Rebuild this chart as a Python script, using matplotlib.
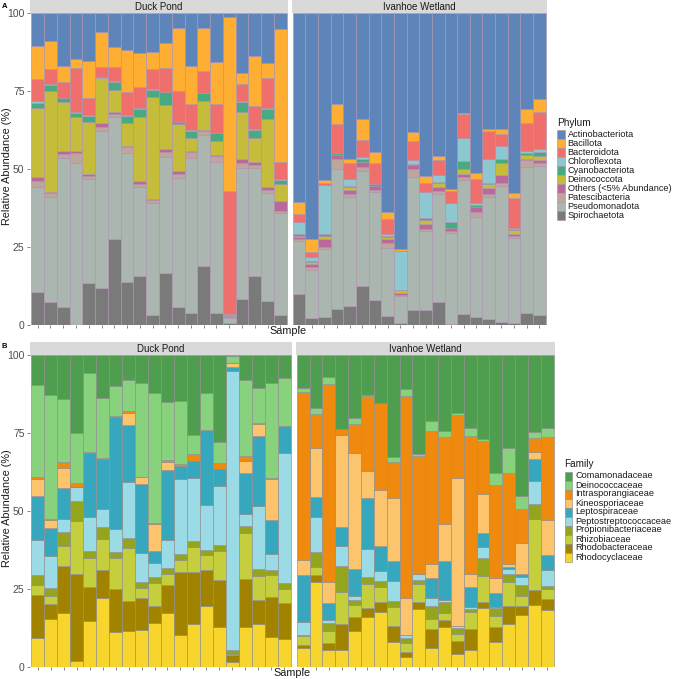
import matplotlib
matplotlib.use("Agg")
import matplotlib.pyplot as plt
from matplotlib.patches import Rectangle
import numpy as np

plt.rcParams['font.family'] = ['Liberation Sans', 'DejaVu Sans']

W, H = 676, 679
sites = ['Duck Pond', 'Ivanhoe Wetland']

# ---- panel A : phylum, 20 Duck Pond samples then 20 Ivanhoe Wetland samples ----
phyla = ['Actinobacteriota', 'Bacillota', 'Bacteroidota', 'Chloroflexota', 'Cyanobacteriota',
         'Deinococcota', 'Others (<5% Abundance)', 'Patescibacteria', 'Pseudomonadota', 'Spirochaetota']
phylum_colours = ['#5E85B9', '#FDAE33', '#EF6F6C', '#8DC7CF', '#47AA80',
                  '#C4BC3A', '#B9699C', '#BEA69C', '#ABB6B0', '#7A7A7A']

actinobacteriota = [10.4, 8.8, 16.9, 14.7, 15.3, 5.9, 10.9, 11.8, 12.8, 12.5, 9.6, 4.6, 16.9, 4.6, 15.7, 1.1, 19.3, 13.6, 16.0, 5.0,
                    60.4, 72.5, 53.5, 29.2, 46.8, 34.0, 44.4, 63.6, 75.5, 38.0, 52.1, 45.7, 56.4, 31.9, 51.1, 37.1, 37.2, 57.8, 30.7, 27.5]
bacillota = [10.8, 9.2, 5.1, 2.9, 12.0, 11.4, 6.4, 13.4, 10.9, 5.5, 8.0, 20.2, 12.3, 13.9, 13.5, 55.9, 3.4, 16.0, 4.9, 42.8,
             4.0, 4.0, 1.0, 6.3, 1.3, 6.6, 3.7, 2.4, 0.8, 2.9, 2.4, 1.4, 0.6, 0.5, 2.2, 0.7, 1.6, 1.6, 4.6, 4.3]
bacteroidota = [6.9, 4.7, 5.1, 14.0, 5.3, 3.2, 4.4, 7.4, 6.8, 6.4, 7.5, 10.0, 8.2, 7.0, 9.1, 39.6, 5.3, 7.6, 9.6, 5.4,
                2.4, 1.8, 0.5, 9.2, 5.2, 5.6, 6.8, 4.9, 0.0, 6.2, 2.7, 4.8, 4.0, 7.5, 7.7, 9.0, 3.7, 9.6, 8.8, 11.7]
chloroflexota = [0.6, 0.4, 0.2, 0.3, 0.3, 0.1, 0.3, 0.3, 0.3, 0.2, 0.3, 0.1, 0.3, 0.2, 0.2, 0.2, 0.6, 0.3, 0.2, 0.3,
                 4.1, 1.2, 15.9, 0.1, 2.1, 0.6, 0.0, 0.7, 12.5, 1.2, 8.6, 2.1, 5.8, 7.5, 0.5, 7.5, 4.3, 0.3, 0.8, 0.9]
cyanobacteriota = [1.8, 1.9, 1.3, 1.3, 1.9, 0.3, 2.6, 2.4, 2.6, 2.4, 4.0, 0.7, 2.4, 2.3, 2.6, 0.2, 3.0, 2.4, 3.3, 1.3,
                   0.4, 0.4, 0.7, 0.7, 0.4, 0.8, 0.5, 0.3, 0.0, 0.4, 0.5, 0.5, 2.0, 2.7, 0.5, 0.5, 1.1, 0.3, 0.5, 1.3]
deinococcota = [21.9, 32.2, 15.7, 10.9, 16.8, 14.2, 7.2, 7.2, 20.4, 32.6, 14.1, 15.0, 4.0, 9.3, 4.3, 0.3, 15.3, 7.7, 21.6, 5.4,
                0.6, 0.5, 0.9, 0.1, 0.9, 0.0, 0.0, 0.5, 0.8, 0.0, 1.3, 1.1, 0.0, 1.3, 0.0, 1.3, 4.0, 1.2, 1.3, 1.4]
others = [1.3, 0.6, 0.7, 0.6, 0.5, 1.3, 0.5, 0.3, 1.0, 0.4, 1.0, 0.8, 0.5, 0.5, 0.5, 0.1, 1.0, 1.1, 1.1, 3.1,
          0.6, 1.1, 2.6, 1.3, 1.4, 1.6, 1.3, 1.3, 0.8, 1.4, 1.7, 1.3, 1.0, 1.1, 1.6, 2.0, 2.4, 0.6, 0.3, 1.0]
patescibacteria = [2.1, 1.2, 1.5, 3.4, 1.1, 1.4, 1.1, 2.1, 0.8, 0.7, 1.7, 1.3, 1.7, 1.4, 1.9, 0.2, 1.7, 1.0, 0.8, 0.7,
                   0.5, 0.9, 0.4, 2.9, 0.7, 1.3, 0.7, 1.6, 0.2, 2.5, 0.5, 1.1, 0.6, 0.9, 1.6, 0.7, 1.1, 0.8, 2.2, 0.8]
pseudomonadota = [33.5, 33.7, 47.8, 51.9, 33.4, 50.2, 39.0, 41.2, 28.7, 36.1, 37.0, 41.6, 49.7, 41.8, 48.5, 1.6, 42.2, 34.5, 34.8, 32.8,
                  17.2, 15.5, 21.8, 45.1, 35.1, 37.0, 34.6, 21.8, 8.9, 42.6, 25.4, 34.7, 29.3, 43.1, 32.1, 39.4, 43.7, 27.3, 47.1, 47.9]
spirochaetota = [10.7, 7.3, 5.7, 0.0, 13.4, 12.0, 27.6, 13.9, 15.7, 3.2, 16.8, 5.7, 4.0, 19.0, 3.7, 0.8, 8.2, 15.8, 7.7, 3.2,
                 9.8, 2.1, 2.7, 5.1, 6.1, 12.5, 8.0, 2.9, 0.5, 4.8, 4.8, 7.3, 0.3, 3.5, 2.7, 1.8, 0.9, 0.5, 3.7, 3.2]

# ---- panel B : family ----
families = ['Comamonadaceae', 'Deinococcaceae', 'Intrasporangiaceae', 'Kineosporiaceae', 'Leptospiraceae',
            'Peptostreptococcaceae', 'Propionibacteriaceae', 'Rhizobiaceae', 'Rhodobacteraceae', 'Rhodocyclaceae']
family_colours = ['#4F9E4F', '#88D27E', '#EF8A0F', '#FDC46E', '#37A7BD',
                  '#9ADBE6', '#94A41F', '#C5CE3C', '#A28300', '#F8D52C']

comamonadaceae = [9.6, 12.8, 14.2, 24.9, 5.7, 13.7, 9.9, 8.0, 9.1, 12.3, 15.0, 14.8, 25.7, 12.3, 27.8, 0.3, 8.0, 10.5, 8.9, 7.3,
                  10.5, 17.1, 7.2, 23.9, 20.3, 12.8, 15.3, 32.6, 11.0, 31.9, 21.1, 24.3, 18.5, 23.3, 27.1, 38.0, 29.9, 45.1, 24.6, 23.5]
deinococcaceae = [29.7, 39.9, 20.2, 16.1, 25.3, 19.2, 9.7, 10.0, 29.9, 41.5, 18.7, 20.3, 6.1, 11.8, 6.7, 2.4, 24.4, 11.2, 30.5, 15.5,
                  1.3, 1.8, 2.2, 0.0, 1.8, 0.3, 0.0, 1.6, 2.2, 0.4, 3.2, 2.1, 0.7, 2.7, 0.5, 3.7, 7.9, 4.4, 1.9, 2.7]
intrasporangiaceae = [0.6, 0.3, 1.7, 1.2, 0.6, 0.6, 0.4, 0.5, 0.3, 0.4, 0.5, 0.4, 2.1, 0.0, 2.0, 0.0, 1.5, 0.5, 0.5, 0.0,
                      54.0, 10.8, 63.3, 1.8, 9.5, 24.1, 28.0, 11.8, 64.9, 38.1, 42.8, 27.9, 20.4, 44.1, 17.1, 30.0, 29.3, 10.9, 4.5, 26.7]
kineosporiaceae = [5.2, 2.4, 6.5, 0.3, 0.0, 0.0, 0.0, 4.0, 2.2, 8.6, 2.7, 0.0, 0.0, 0.0, 0.0, 1.3, 4.1, 3.8, 13.0, 0.0,
                   4.8, 16.0, 7.0, 29.4, 37.2, 8.8, 17.9, 20.0, 11.7, 0.0, 4.6, 11.8, 47.4, 4.2, 12.5, 4.8, 0.8, 9.7, 2.4, 11.3]
leptospiraceae = [14.3, 9.1, 10.0, 0.0, 20.3, 15.9, 35.9, 18.4, 22.1, 3.8, 22.5, 4.4, 5.5, 24.0, 5.4, 1.1, 13.0, 22.3, 10.9, 8.8,
                  15.0, 6.2, 5.3, 6.2, 8.4, 16.2, 8.1, 6.4, 0.0, 0.0, 6.4, 12.5, 0.0, 6.4, 4.5, 4.2, 0.9, 1.0, 6.9, 4.8]
peptostreptococcaceae = [11.2, 10.4, 4.3, 4.5, 11.0, 5.9, 7.4, 17.7, 9.1, 4.7, 8.8, 24.1, 20.2, 14.4, 19.1, 89.6, 3.9, 20.5, 5.1, 41.4,
                         4.2, 11.4, 0.9, 6.3, 1.4, 9.1, 3.1, 6.4, 0.9, 1.8, 2.4, 0.7, 0.7, 0.9, 3.5, 0.5, 1.3, 2.7, 7.6, 5.0]
propionibacteriaceae = [3.2, 2.3, 4.4, 6.4, 2.3, 3.7, 1.7, 3.4, 2.2, 2.0, 1.9, 1.8, 2.1, 1.8, 1.9, 1.3, 2.1, 2.0, 1.6, 2.2,
                        0.5, 4.6, 2.5, 8.5, 1.6, 2.2, 1.9, 1.9, 1.6, 1.3, 4.3, 3.5, 1.8, 0.7, 5.6, 2.5, 2.6, 3.5, 4.8, 1.2]
rhizobiaceae = [3.2, 2.8, 6.3, 16.9, 9.1, 10.0, 10.2, 16.8, 2.9, 7.1, 3.7, 3.9, 7.8, 4.6, 9.3, 0.3, 15.0, 7.8, 7.2, 4.5,
                2.7, 2.7, 4.1, 10.3, 3.8, 7.8, 5.1, 6.3, 2.9, 5.6, 3.2, 2.1, 2.2, 5.6, 8.3, 3.7, 7.7, 3.1, 22.7, 3.1]
rhodobacteraceae = [13.9, 4.7, 15.1, 28.0, 11.0, 8.9, 13.8, 9.8, 10.4, 5.5, 9.1, 20.1, 16.9, 11.6, 15.0, 2.1, 15.2, 7.8, 12.8, 11.5,
                    1.1, 2.1, 2.2, 8.3, 4.6, 2.7, 3.0, 5.0, 1.6, 2.5, 6.1, 2.4, 4.2, 6.7, 2.0, 4.6, 5.9, 3.0, 4.8, 3.5]
rhodocyclaceae = [9.1, 15.3, 17.3, 1.7, 14.7, 22.1, 11.0, 11.4, 11.8, 14.1, 17.1, 10.2, 13.6, 19.5, 12.8, 1.6, 12.8, 13.6, 9.5, 8.8,
                  5.9, 27.3, 5.3, 5.3, 11.4, 16.0, 17.6, 8.0, 3.2, 18.4, 5.9, 12.7, 4.1, 5.4, 18.9, 8.0, 13.7, 16.6, 19.8, 18.2]

phylum_values = [actinobacteriota, bacillota, bacteroidota, chloroflexota, cyanobacteriota,
                 deinococcota, others, patescibacteria, pseudomonadota, spirochaetota]
family_values = [comamonadaceae, deinococcaceae, intrasporangiaceae, kineosporiaceae, leptospiraceae,
                 peptostreptococcaceae, propionibacteriaceae, rhizobiaceae, rhodobacteraceae, rhodocyclaceae]

fig = plt.figure(figsize=(W / 100, H / 100), dpi=100)


def px_axes(x0, y0, x1, y1, **kw):
    # axes from pixel box (top-left origin)
    return fig.add_axes([x0 / W, 1 - y1 / H, (x1 - x0) / W, (y1 - y0) / H], **kw)


def draw_facet(box, strip_h, series, colours, edge, site_idx, label, show_y):
    x0, y0, x1, y1 = box
    ax = px_axes(x0, y0, x1, y1)
    n = 20
    xs = np.arange(1, n + 1)
    bottom = np.zeros(n)
    # last legend item sits at the bottom of the stack
    for vals, col in reversed(list(zip(series, colours))):
        v = np.array(vals[site_idx * n:(site_idx + 1) * n])
        ax.bar(xs, v, bottom=bottom, width=1.0, color=col, edgecolor=edge, linewidth=0.45)
        bottom += v
    ax.set_xlim(0.4, n + 0.6)
    ax.set_ylim(0, 100)
    for s in ax.spines.values():
        s.set_visible(False)
    ax.set_xticks(xs)
    ax.set_xticklabels([])
    ax.tick_params(axis='x', length=2.5, width=0.5, color='#555555')
    if show_y:
        ax.set_yticks([0, 25, 50, 75, 100])
        ax.tick_params(axis='y', length=2.5, width=0.5, color='#555555', labelsize=7.5,
                       labelcolor='#4D4D4D', pad=1.5)
    else:
        ax.set_yticks([])
    st = px_axes(x0, y0 - strip_h, x1, y0, facecolor='#D9D9D9')
    st.set_xticks([])
    st.set_yticks([])
    for s in st.spines.values():
        s.set_visible(False)
    st.text(0.5, 0.48, label, ha='center', va='center', fontsize=7, color='#1A1A1A',
            transform=st.transAxes)
    return ax


# panel A
draw_facet((30, 13.3, 288, 325), 13.3, phylum_values, phylum_colours, '#AD93AD', 0, sites[0], True)
draw_facet((291.5, 13.3, 547, 325), 13.3, phylum_values, phylum_colours, '#AD93AD', 1, sites[1], False)
# panel B
draw_facet((30, 355, 292, 666.7), 13, family_values, family_colours, '#8F8F8F', 0, sites[0], True)
draw_facet((295.5, 355, 555, 666.7), 13, family_values, family_colours, '#8F8F8F', 1, sites[1], False)

# overlay in pixel coordinates for titles and legends
ov = fig.add_axes([0, 0, 1, 1], facecolor='none')
ov.set_xlim(0, W)
ov.set_ylim(H, 0)
ov.axis('off')

ov.text(2, 2.5, 'A', fontsize=5.5, fontweight='bold', ha='left', va='top')
ov.text(2, 343, 'B', fontsize=5.5, fontweight='bold', ha='left', va='top')

ov.text(288.5, 330.5, 'Sample', fontsize=7.8, ha='center', va='center', color='#1A1A1A')
ov.text(292.5, 673, 'Sample', fontsize=7.8, ha='center', va='center', color='#1A1A1A')
ov.text(7, 166, 'Relative Abundance (%)', fontsize=7.8, rotation=90, ha='center', va='center', color='#1A1A1A')
ov.text(7, 508, 'Relative Abundance (%)', fontsize=7.8, rotation=90, ha='center', va='center', color='#1A1A1A')


def draw_legend(title, names, colours, edge, x, y_title, y_first, step):
    ov.text(x, y_title, title, fontsize=7.2, ha='left', va='center', color='#1A1A1A')
    for i, (nm, col) in enumerate(zip(names, colours)):
        yk = y_first + i * step
        ov.add_patch(Rectangle((x, yk), 7.7, step, facecolor=col, edgecolor=edge, linewidth=0.45))
        ov.text(x + 10.5, yk + step / 2, nm, fontsize=6.6, ha='left', va='center', color='#1A1A1A')


draw_legend('Phylum', phyla, phylum_colours, '#AD93AD', 557, 123, 130, 9.0)
draw_legend('Family', families, family_colours, '#8F8F8F', 564.5, 464, 471.5, 9.0)

fig.savefig('out.png', dpi=100)
